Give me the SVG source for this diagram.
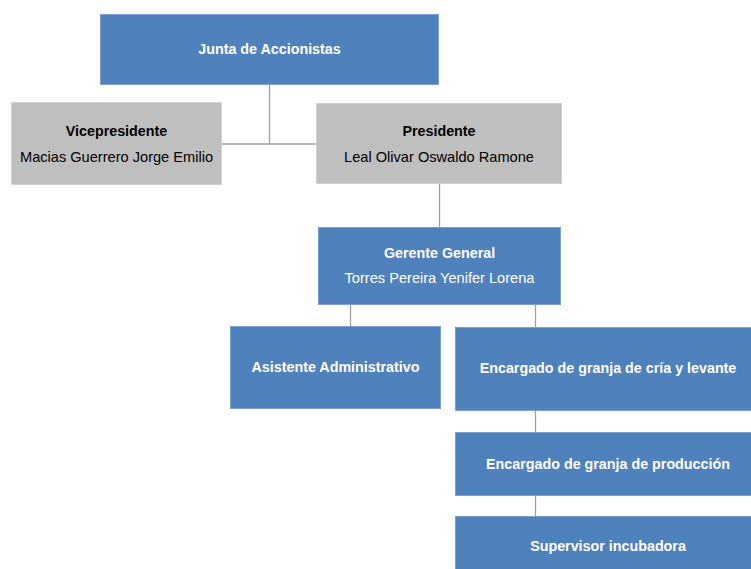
<svg xmlns="http://www.w3.org/2000/svg" width="751" height="569" viewBox="0 0 751 569">
<style>
.b{fill:#4F81BD;stroke:#7DA0D0;stroke-width:1}
.g{fill:#BFBFBF;stroke:#D0D0D0;stroke-width:1}
text{font-family:"Liberation Sans",Arial,sans-serif;font-size:14.6px;text-anchor:middle}
.t{font-weight:bold;font-size:14.3px}
.w{fill:#FFFFFF}
.k{fill:#000000}
.c line{stroke:#A0A0A0;stroke-width:1.3}
</style>
<rect width="751" height="569" fill="#FFFFFF"/>
<g class="c" id="connectors">
<line x1="269.5" y1="84" x2="269.5" y2="144"/>
<line x1="221" y1="144" x2="316" y2="144"/>
<line x1="439.5" y1="183" x2="439.5" y2="227"/>
<line x1="350.5" y1="304" x2="350.5" y2="327"/>
<line x1="535.5" y1="297" x2="535.5" y2="328"/>
<line x1="535.5" y1="410" x2="535.5" y2="433"/>
<line x1="535.5" y1="495" x2="535.5" y2="517"/>
</g>
<g id="junta"><rect class="b" x="100.5" y="14.5" width="338" height="70"/><text class="t w" x="269.5" y="54">Junta de Accionistas</text></g>
<g id="vicepresidente"><rect class="g" x="11.5" y="102.5" width="210" height="82"/><text class="t k" x="116.5" y="136">Vicepresidente</text><text class="k" x="116.5" y="162">Macias Guerrero Jorge Emilio</text></g>
<g id="presidente"><rect class="g" x="316.5" y="103.5" width="245" height="80"/><text class="t k" x="439" y="136">Presidente</text><text class="k" x="439" y="162">Leal Olivar Oswaldo Ramone</text></g>
<g id="gerente"><rect class="b" x="318.5" y="227.5" width="242" height="77"/><text class="t w" x="439.5" y="258">Gerente General</text><text class="w" x="439.5" y="283">Torres Pereira Yenifer Lorena</text></g>
<g id="asistente"><rect class="b" x="230.5" y="326.5" width="210" height="82"/><text class="t w" x="335.5" y="372">Asistente Administrativo</text></g>
<g id="encargado-cria"><rect class="b" x="455.5" y="327.5" width="300" height="83"/><text class="t w" x="608" y="373">Encargado de granja de cría y levante</text></g>
<g id="encargado-produccion"><rect class="b" x="455.5" y="432.5" width="300" height="63"/><text class="t w" x="608" y="469">Encargado de granja de producción</text></g>
<g id="supervisor"><rect class="b" x="455.5" y="516.5" width="300" height="60"/><text class="t w" x="608" y="551">Supervisor incubadora</text></g>
</svg>
